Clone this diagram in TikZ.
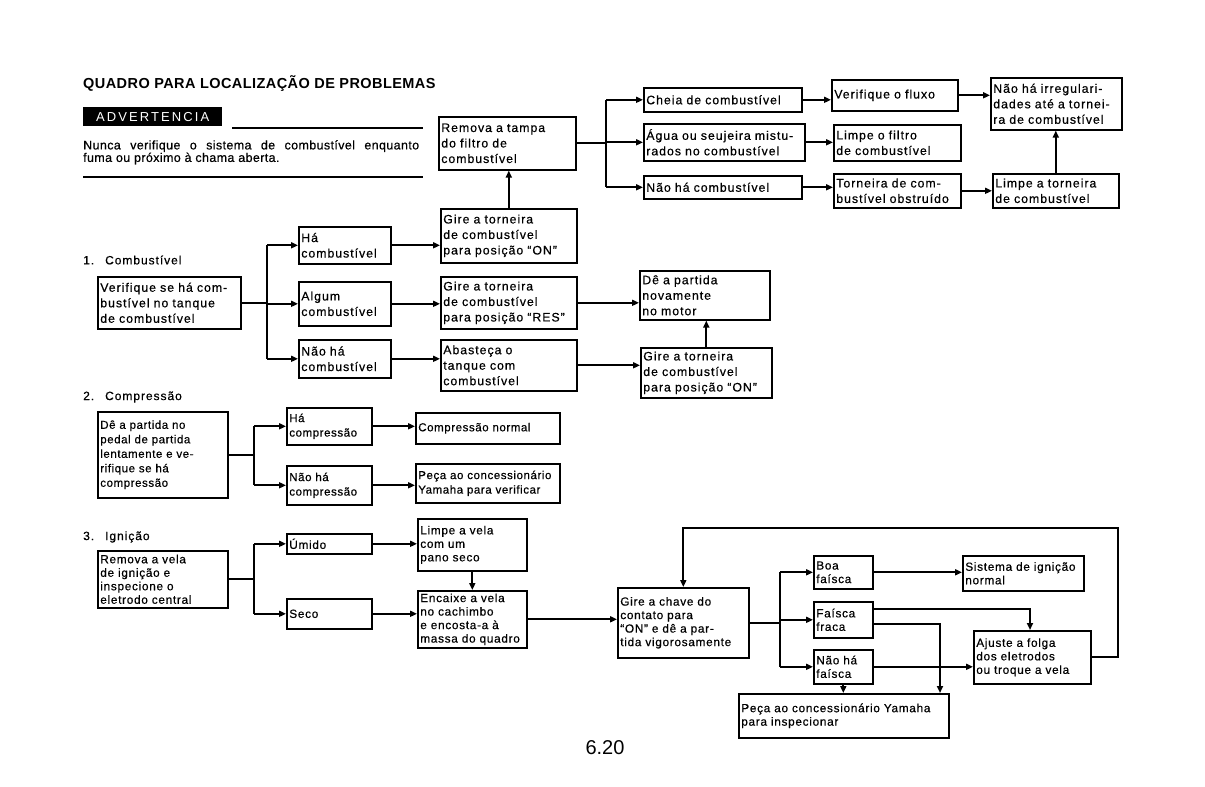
\documentclass[tikz,border=0pt]{standalone}
\usepackage{fontspec}
\setmainfont{Liberation Sans}
\usetikzlibrary{arrows.meta}

\newfontfamily\fuelfam[LetterSpace=8,FakeBold=0.5]{Liberation Sans}
\newfontfamily\compfam[LetterSpace=5,FakeBold=0.5]{Liberation Sans}
\newfontfamily\ignfam[LetterSpace=6,FakeBold=0.5]{Liberation Sans}
\newfontfamily\widefam[LetterSpace=8,FakeBold=0.5]{Liberation Sans}
\newfontfamily\warnfam[LetterSpace=3,FakeBold=0.5]{Liberation Sans}
\newfontfamily\capfam[LetterSpace=16]{Liberation Sans}
\newfontfamily\titfam[LetterSpace=3]{Liberation Sans}
\newcommand{\fuelfont}{\fuelfam\fontsize{12.3}{15.5}\selectfont}
\newcommand{\compfont}{\compfam\fontsize{11.5}{14.5}\selectfont}
\newcommand{\ignfont}{\ignfam\fontsize{11.8}{13.5}\selectfont}
\newcommand{\secfont}{\widefam\fontsize{12}{14}\selectfont}
\let\boxfont\fuelfont

\tikzset{
  blk/.style 2 args={draw, line width=1.6pt, anchor=north west, align=left,
    inner xsep=2.5pt, inner ysep=1.5pt, text width=#1pt, minimum height=#2pt,
    font=\boxfont},
  sec/.style={anchor=west, inner sep=0pt, font=\secfont},
  wire/.style={line width=2.3pt},
  flow/.style={wire, -{Triangle[length=7pt,width=6pt]}},
}

\begin{document}
\begin{tikzpicture}[x=1pt, y=-1pt]
  \useasboundingbox (0,0) rectangle (1205,787);

  % heading and warning
  \node[anchor=west, inner sep=0pt, font=\titfam\bfseries\fontsize{14.5}{16}\selectfont] (titulo) at (83,84)
    {QUADRO PARA LOCALIZAÇÃO DE PROBLEMAS};
  \node[fill=black, text=white, anchor=north west, inner sep=0pt, minimum width=139pt, minimum height=19pt,
    font=\capfam\fontsize{13}{14}\selectfont] (adv) at (83,107) {ADVERTENCIA};
  \coordinate (r1) at (232,128);
  \coordinate (r2) at (423,128);
  \draw[line width=2pt] (r1) -- (r2);
  \node[anchor=north west, inner sep=0pt, text width=336pt, align=justify,
    font=\warnfam\fontsize{12.5}{12.5}\selectfont] (aviso) at (83,140)
    {Nunca verifique o sistema de combustível enquanto\linebreak fuma ou próximo à chama aberta.};
  \coordinate (r3) at (83,177);
  \coordinate (r4) at (423,177);
  \draw[line width=1.6pt] (r3) -- (r4);

  % fuel filter / fuel cock
  \node[blk={132}{53}] (filtro) at (438,116) {Remova a tampa\\do filtro de\\combustível};
  \node[blk={153}{24}] (cheia) at (643,87) {Cheia de combustível};
  \node[blk={156}{37}] (agua) at (643,123) {Água ou seujeira mistu-\\rados no combustível};
  \node[blk={153}{23}] (vazio) at (643,175) {Não há combustível};
  \node[blk={121}{31}] (fluxo) at (831,79) {Verifique o fluxo};
  \node[blk={122}{36}] (limpfil) at (833,124) {Limpe o filtro\\de combustível};
  \node[blk={122}{34}] (obstr) at (833,173) {Torneira de com-\\bustível obstruído};
  \node[blk={126}{52}] (semirr) at (990,77) {Não há irregulari-\\dades até a tornei-\\ra de combustível};
  \node[blk={121}{34}] (limptor) at (992,173) {Limpe a torneira\\de combustível};
  \coordinate (c0) at (606,142);

  \draw[wire] (filtro.east) -- (filtro.east -| c0);
  \draw[wire] (c0 |- cheia) -- (c0 |- vazio);
  \foreach \n in {cheia,agua,vazio}
    \draw[flow] (c0 |- \n) -- (\n.west);
  \draw[flow] (cheia.east) -- (cheia.east -| fluxo.west);
  \draw[flow] (fluxo.east) -- (fluxo.east -| semirr.west);
  \draw[flow] (agua.east) -- (agua.east -| limpfil.west);
  \draw[flow] (vazio.east) -- (vazio.east -| obstr.west);
  \draw[flow] (obstr.east) -- (obstr.east -| limptor.west);
  \draw[flow] (limptor.north) -- (limptor.north |- semirr.south);

  % 1. fuel
  \node[sec] (sec1) at (83,260) {1.\hspace{11pt}Combustível};
  \node[blk={138}{52}] (verif) at (97,276) {Verifique se há com-\\bustível no tanque\\de combustível};
  \node[blk={87}{37}] (hacomb) at (298,226) {Há\\combustível};
  \node[blk={87}{44}] (algum) at (298,281) {Algum\\combustível};
  \node[blk={87}{38}] (naocomb) at (298,339) {Não há\\combustível};
  \node[blk={131}{54}] (gireon) at (440,208) {Gire a torneira\\de combustível\\para posição “ON”};
  \node[blk={131}{52}] (gireres) at (440,276) {Gire a torneira\\de combustível\\para posição “RES”};
  \node[blk={131}{51}] (abast) at (440,339) {Abasteça o\\tanque com\\combustível};
  \node[blk={125}{49}] (partida) at (639,270) {Dê a partida\\novamente\\no motor};
  \node[blk={126}{50}] (gireon2) at (640,347) {Gire a torneira\\de combustível\\para posição “ON”};
  \coordinate (c1) at (267,302);

  \draw[wire] (verif.east) -- (verif.east -| c1);
  \draw[wire] (c1 |- hacomb) -- (c1 |- naocomb);
  \foreach \n in {hacomb,algum,naocomb}
    \draw[flow] (c1 |- \n) -- (\n.west);
  \draw[flow] (hacomb.east) -- (hacomb.east -| gireon.west);
  \draw[flow] (algum.east) -- (algum.east -| gireres.west);
  \draw[flow] (naocomb.east) -- (naocomb.east -| abast.west);
  \draw[flow] (gireon.north) -- (gireon.north |- filtro.south);
  \draw[flow] (gireres.east) -- (gireres.east -| partida.west);
  \draw[flow] (abast.east) -- (abast.east -| gireon2.west);
  \draw[flow] (gireon2.north) -- (gireon2.north |- partida.south);

  % 2. compression
  \let\boxfont\compfont
  \node[sec] (sec2) at (83,397) {2.\hspace{11pt}Compressão};
  \node[blk={125}{86}] (pedal) at (97,411) {Dê a partida no\\pedal de partida\\lentamente e ve-\\rifique se há\\compressão};
  \node[blk={80}{37}] (hacomp) at (286,407) {Há\\compressão};
  \node[blk={80}{39}] (naocomp) at (286,465) {Não há\\compressão};
  \node[blk={139}{31}] (normal) at (415,412) {Compressão normal};
  \node[blk={139}{39}] (pecav) at (415,463) {Peça ao concessionário\\Yamaha para verificar};
  \coordinate (c2) at (254,454);

  \draw[wire] (pedal.east) -- (pedal.east -| c2);
  \draw[wire] (c2 |- hacomp) -- (c2 |- naocomp);
  \foreach \n in {hacomp,naocomp}
    \draw[flow] (c2 |- \n) -- (\n.west);
  \draw[flow] (hacomp.east) -- (hacomp.east -| normal.west);
  \draw[flow] (naocomp.east) -- (naocomp.east -| pecav.west);

  % 3. ignition
  \let\boxfont\ignfont
  \node[sec] (sec3) at (83,537) {3.\hspace{11pt}Ignição};
  \node[blk={125}{57}] (vela) at (97,550) {Remova a vela\\de ignição e\\inspecione o\\eletrodo central};
  \node[blk={80}{20}] (umido) at (286,533) {Úmido};
  \node[blk={80}{30}] (seco) at (286,598) {Seco};
  \node[blk={104}{52}] (limpvela) at (417,518) {Limpe a vela\\com um\\pano seco};
  \node[blk={104}{57}] (encaixe) at (417,590) {Encaixe a vela\\no cachimbo\\e encosta-a à\\massa do quadro};
  \node[blk={126}{70}] (chave) at (617,587) {Gire a chave do\\contato para\\“ON” e dê a par-\\tida vigorosamente};
  \node[blk={54}{33}] (boa) at (813,555) {Boa\\faísca};
  \node[blk={54}{36}] (fraca) at (813,601) {Faísca\\fraca};
  \node[blk={54}{34}] (semfai) at (813,649) {Não há\\faísca};
  \node[blk={116}{35}] (normig) at (962,555) {Sistema de ignição\\normal};
  \node[blk={112}{53}] (ajuste) at (973,630) {Ajuste a folga\\dos eletrodos\\ou troque a vela};
  \node[blk={205}{44}] (pecai) at (738,693) {Peça ao concessionário Yamaha\\para inspecionar};
  \coordinate (c3) at (254,578);
  \coordinate (c4) at (780,622);
  \coordinate (k1) at (1030,609);
  \coordinate (k2) at (940,624);
  \coordinate (k3) at (1118,528);

  \draw[wire] (vela.east) -- (vela.east -| c3);
  \draw[wire] (c3 |- umido) -- (c3 |- seco);
  \foreach \n in {umido,seco}
    \draw[flow] (c3 |- \n) -- (\n.west);
  \draw[flow] (umido.east) -- (umido.east -| limpvela.west);
  \draw[flow] (seco.east) -- (seco.east -| encaixe.west);
  \draw[flow] (limpvela.south) -- (limpvela.south |- encaixe.north);
  \draw[flow] (encaixe.east) -- (encaixe.east -| chave.west);
  \draw[wire] (chave.east) -- (chave.east -| c4);
  \draw[wire] (c4 |- boa) -- (c4 |- semfai);
  \foreach \n in {boa,fraca,semfai}
    \draw[flow] (c4 |- \n) -- (\n.west);
  \draw[flow] (boa.east) -- (boa.east -| normig.west);
  \draw[flow] (fraca.east |- k1) -| (k1 |- ajuste.north);
  \draw[flow] (fraca.east |- k2) -| (k2 |- pecai.north);
  \draw[flow] (semfai.east) -- (semfai.east -| ajuste.west);
  \draw[flow] (semfai.south) -- (semfai.south |- pecai.north);
  % back to the key
  \draw[flow] (ajuste.east) -| (k3) -| (chave.north);

  \node[font=\fontsize{20}{22}\selectfont] (pagina) at (605,748) {6.20};
\end{tikzpicture}
\end{document}
